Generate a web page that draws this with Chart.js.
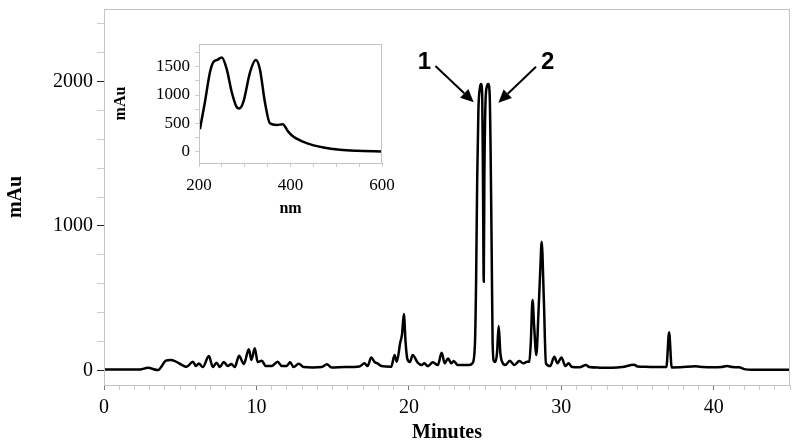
<!DOCTYPE html>
<html lang="en">
<head>
  <meta charset="UTF-8">
  <title>Chromatogram</title>
  <script src="https://cdn.jsdelivr.net/npm/chart.js"></script>
  <style>
    body {
      margin: 0;
      background: #ffffff;
    }
    .wrap {
      position: relative;
      width: 796px;
      height: 447px;
    }
    #mainChart {
      position: absolute;
      left: 0;
      top: 0;
    }
    #insetChart {
      position: absolute;
      left: 110px;
      top: 40px;
    }
  </style>
</head>
<body>
  <div class="wrap">
    <canvas id="mainChart" width="796" height="447"></canvas>
    <canvas id="insetChart" width="290" height="180"></canvas>
  </div>

  <script>
    // chromatogram (minutes / mAu)
    const minutes = [0, 2.36, 2.88, 3.54, 4.06, 4.39, 4.72, 5.42, 5.83, 6.03, 6.22, 6.48, 6.88, 7.14, 7.38, 7.6, 7.86, 8.12, 8.36, 8.58,
      8.86, 9.17, 9.5, 9.67, 9.89, 10.08, 10.35, 10.61, 11.0, 11.39, 11.66, 11.98, 12.21, 12.44, 12.77, 13.1, 13.69, 14.28, 14.62, 14.93,
      15.78, 16.76, 17.09, 17.29, 17.53, 17.75, 17.94, 18.2, 18.84, 19.06, 19.21, 19.43, 19.55, 19.67, 19.78, 19.89, 20.07, 20.25, 20.58, 20.83,
      21.02, 21.24, 21.57, 21.9, 22.15, 22.35, 22.57, 22.77, 22.94, 23.2, 23.97, 24.18, 24.33, 24.41, 24.48, 24.56, 24.66, 24.73, 24.81, 24.86,
      24.91, 24.95, 25.02, 25.11, 25.21, 25.3, 25.36, 25.43, 25.49, 25.57, 25.67, 25.78, 25.89, 26.0, 26.11, 26.33, 26.62, 26.92, 27.24, 27.5,
      27.75, 27.9, 28.0, 28.11, 28.22, 28.36, 28.5, 28.62, 28.71, 28.85, 28.99, 29.27, 29.54, 29.75, 30.01, 30.26, 30.47, 30.71, 31.2, 31.61,
      31.83, 32.5, 33.35, 34.0, 34.77, 35.0, 35.54, 36.2, 36.89, 37.07, 37.24, 37.8, 38.81, 39.3, 39.9, 40.5, 40.88, 41.2, 41.65, 42.09,
      42.5, 45];
    const mau = [8, 8, 19, 3, 68, 73, 62, 26, 61, 31, 48, 24, 100, 24, 54, 24, 59, 31, 45, 24,
      102, 45, 147, 73, 154, 59, 68, 31, 31, 61, 31, 31, 57, 24, 47, 24, 21, 24, 43, 21,
      24, 28, 50, 31, 91, 59, 50, 31, 26, 107, 61, 192, 250, 391, 200, 84, 59, 107, 54, 38,
      50, 29, 57, 38, 123, 50, 84, 50, 66, 38, 38, 52, 176, 626, 1317, 1801, 1954, 1981, 1905, 1317,
      614, 1317, 1836, 1961, 1981, 1905, 1525, 833, 211, 66, 59, 120, 308, 120, 61, 38, 68, 38, 66, 50,
      60, 61, 200, 488, 300, 107, 400, 700, 891, 500, 50, 31, 95, 50, 91, 31, 50, 24, 22, 38,
      24, 20, 19, 24, 40, 28, 26, 24, 24, 264, 21, 22, 30, 24, 22, 24, 32, 24, 22, 8,
      6, 6];

    const xLabels = [0, 10, 20, 30, 40];
    const yLabels = [0, 1000, 2000];

    // peak markers
    const peakNames = ['1', '2'];
    const peakTextAt = [[21.02, 2134], [29.1, 2134]];
    const arrowFrom = [[21.74, 2106], [28.34, 2101]];
    const arrowTo = [[24.25, 1855], [25.87, 1852]];

    // inset UV spectrum (nm / mAu)
    const nm = [202, 213, 224, 231, 240, 250, 260.5, 271.5, 282, 288, 297, 311.5, 324, 333, 344, 355, 370, 383, 395, 406,
      435, 472, 508, 545, 600];
    const uv = [396, 878, 1401, 1576, 1620, 1663, 1460, 1052, 791, 762, 878, 1401, 1617, 1460, 878, 500, 471, 483, 354, 267,
      152, 75, 35, 17, 5];
    const nmLabels = [200, 400, 600];
    const uvLabels = [0, 500, 1000, 1500];

    const frameGrey = '#c4c4c4';
    const serif = "'Liberation Serif', 'Times New Roman', serif";

    function range(a, b, step) {
      const out = [];
      for (let v = a; v <= b + 1e-9; v += step) out.push(Math.round(v * 1000) / 1000);
      return out;
    }

    // keep the plot box exactly where the layout puts it
    function noEdgePadding(s) {
      s.paddingTop = 0;
      s.paddingBottom = 0;
      s.paddingLeft = 0;
      s.paddingRight = 0;
    }

    const framePlugin = {
      id: 'frame',
      afterDraw(chart) {
        const a = chart.chartArea;
        const ctx = chart.ctx;
        ctx.save();
        ctx.strokeStyle = frameGrey;
        ctx.lineWidth = 1;
        ctx.strokeRect(a.left + 0.5, a.top + 0.5, a.right - a.left - 1, a.bottom - a.top);
        ctx.restore();
      }
    };

    const arrowPlugin = {
      id: 'arrows',
      afterDatasetsDraw(chart) {
        const ctx = chart.ctx;
        const xs = chart.scales.x, ys = chart.scales.y;
        ctx.save();
        ctx.strokeStyle = '#000';
        ctx.fillStyle = '#000';
        ctx.lineWidth = 2;
        arrowFrom.forEach((f, i) => {
          const x1 = xs.getPixelForValue(f[0]), y1 = ys.getPixelForValue(f[1]);
          const x2 = xs.getPixelForValue(arrowTo[i][0]), y2 = ys.getPixelForValue(arrowTo[i][1]);
          const ang = Math.atan2(y2 - y1, x2 - x1);
          const hl = 13, hw = 6;
          const bx = x2 - hl * Math.cos(ang), by = y2 - hl * Math.sin(ang);
          ctx.beginPath();
          ctx.moveTo(x1, y1);
          ctx.lineTo(bx, by);
          ctx.stroke();
          ctx.beginPath();
          ctx.moveTo(x2, y2);
          ctx.lineTo(bx + hw * Math.sin(ang), by - hw * Math.cos(ang));
          ctx.lineTo(bx - hw * Math.sin(ang), by + hw * Math.cos(ang));
          ctx.closePath();
          ctx.fill();
        });
        ctx.font = "bold 24px 'Liberation Sans', Arial, sans-serif";
        ctx.textAlign = 'center';
        ctx.textBaseline = 'middle';
        peakNames.forEach((t, i) => {
          ctx.fillText(t, xs.getPixelForValue(peakTextAt[i][0]), ys.getPixelForValue(peakTextAt[i][1]));
        });
        ctx.restore();
      }
    };

    new Chart(document.getElementById('mainChart'), {
      type: 'line',
      data: {
        datasets: [{
          data: minutes.map((t, i) => ({ x: t, y: mau[i] })),
          borderColor: '#000',
          borderWidth: 2.5,
          pointRadius: 0,
          cubicInterpolationMode: 'monotone',
          fill: false
        }]
      },
      options: {
        responsive: false,
        animation: false,
        layout: { padding: { left: 0, right: 6, top: 9, bottom: 0 } },
        plugins: { legend: { display: false }, tooltip: { enabled: false } },
        scales: {
          x: {
            type: 'linear',
            min: 0,
            max: 45,
            afterBuildTicks: s => { s.ticks = range(0, 45, 1).map(v => ({ value: v })); },
            afterFit: s => { s.height = 62; noEdgePadding(s); },
            grid: {
              drawOnChartArea: false,
              tickLength: 5,
              tickColor: c => xLabels.includes(c.tick && c.tick.value) ? '#777' : '#ccc'
            },
            border: { color: frameGrey },
            ticks: {
              autoSkip: false,
              maxRotation: 0,
              padding: 6,
              color: '#000',
              font: { family: serif, size: 20 },
              callback: v => xLabels.includes(v) ? v : ''
            },
            title: {
              display: true,
              text: 'Minutes',
              color: '#000',
              font: { family: serif, size: 20, weight: 'bold' },
              padding: { top: 0, bottom: 2 }
            }
          },
          y: {
            min: -100,
            max: 2500,
            afterBuildTicks: s => { s.ticks = range(0, 2400, 200).map(v => ({ value: v })); },
            afterFit: s => { s.width = 104; noEdgePadding(s); },
            grid: {
              drawOnChartArea: false,
              tickLength: 7,
              tickColor: c => yLabels.includes(c.tick && c.tick.value) ? '#222' : '#ccc'
            },
            border: { color: frameGrey },
            ticks: {
              autoSkip: false,
              padding: 4,
              color: '#000',
              font: { family: serif, size: 20 },
              callback: v => yLabels.includes(v) ? v : ''
            },
            title: {
              display: true,
              text: 'mAu',
              color: '#000',
              font: { family: serif, size: 20, weight: 'bold' },
              padding: { top: 4, bottom: 0 }
            }
          }
        }
      },
      plugins: [framePlugin, arrowPlugin]
    });

    new Chart(document.getElementById('insetChart'), {
      type: 'line',
      data: {
        datasets: [{
          data: nm.map((w, i) => ({ x: w, y: uv[i] })),
          borderColor: '#000',
          borderWidth: 2.5,
          pointRadius: 0,
          cubicInterpolationMode: 'monotone',
          fill: false
        }]
      },
      options: {
        responsive: false,
        animation: false,
        layout: { padding: { left: 0, right: 18, top: 4, bottom: 0 } },
        plugins: { legend: { display: false }, tooltip: { enabled: false } },
        scales: {
          x: {
            type: 'linear',
            min: 200,
            max: 600,
            afterBuildTicks: s => { s.ticks = range(200, 600, 50).map(v => ({ value: v })); },
            afterFit: s => { s.height = 57; noEdgePadding(s); },
            grid: {
              drawOnChartArea: false,
              tickLength: 4,
              tickColor: '#ccc'
            },
            border: { color: frameGrey },
            ticks: {
              autoSkip: false,
              maxRotation: 0,
              padding: 8,
              color: '#000',
              font: { family: serif, size: 17 },
              callback: v => nmLabels.includes(v) ? v : ''
            },
            title: {
              display: true,
              text: 'nm',
              color: '#000',
              font: { family: serif, size: 16, weight: 'bold' },
              padding: { top: 0, bottom: 2 }
            }
          },
          y: {
            min: -200,
            max: 1900,
            afterBuildTicks: s => { s.ticks = range(-250, 1750, 250).filter(v => v >= -200).map(v => ({ value: v })); },
            afterFit: s => { s.width = 89; noEdgePadding(s); },
            grid: {
              drawOnChartArea: false,
              tickLength: 4,
              tickColor: '#ccc'
            },
            border: { color: frameGrey },
            ticks: {
              autoSkip: false,
              padding: 5,
              color: '#000',
              font: { family: serif, size: 17 },
              callback: v => uvLabels.includes(v) ? v : ''
            },
            title: {
              display: true,
              text: 'mAu',
              color: '#000',
              font: { family: serif, size: 16, weight: 'bold' },
              padding: { top: 1, bottom: 0 }
            }
          }
        }
      },
      plugins: [framePlugin]
    });
  </script>
</body>
</html>
